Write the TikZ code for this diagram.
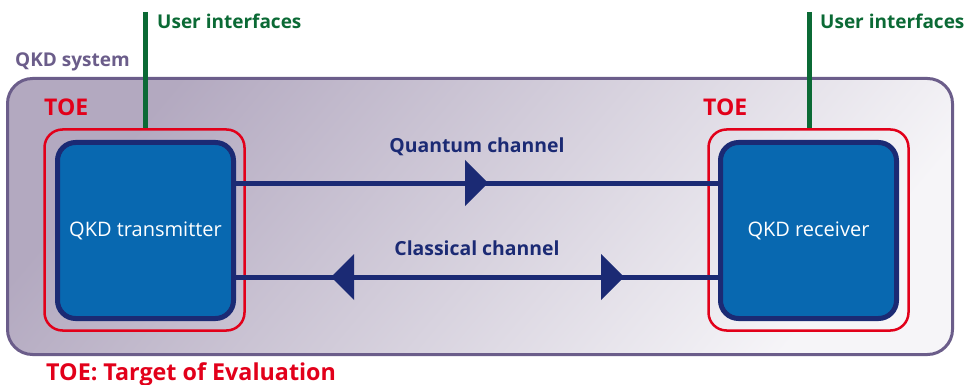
\documentclass[tikz,border=0pt]{standalone}
\usepackage{fontspec}
\setmainfont{Open Sans}
\usetikzlibrary{calc}
\definecolor{sysgray}{HTML}{6B5D8A}
\definecolor{toered}{HTML}{E2001A}
\definecolor{boxblue}{HTML}{0868B0}
\definecolor{navy}{HTML}{1B2A74}
\definecolor{uigreen}{HTML}{0B6A35}
\definecolor{shadedark}{HTML}{B3A9C0}
\definecolor{shadelight}{HTML}{F6F5F8}
\tikzset{
  sysbox/.style={draw=sysgray, line width=3pt, rounded corners=25pt, minimum width=945pt, minimum height=276pt, inner sep=0pt,
    shading=axis, left color=shadedark, right color=shadelight, shading angle=50},
  toebox/.style={draw=toered, line width=2.5pt, rounded corners=18pt, minimum width=200pt, minimum height=201pt, inner sep=0pt},
  devbox/.style={draw=navy, fill=boxblue, line width=5pt, rounded corners=18pt, minimum width=176pt, minimum height=176pt, inner sep=0pt,
    text=white, font=\fontsize{20}{24}\selectfont},
  uiline/.style={draw=uigreen, line width=5pt},
  uilabel/.style={text=uigreen, font=\fontsize{19}{22}\selectfont\bfseries, anchor=west, inner sep=0pt},
  toelabel/.style={text=toered, font=\fontsize{23}{27}\selectfont\bfseries, anchor=west, inner sep=0pt},
  chlabel/.style={text=navy, font=\fontsize{19.4}{23}\selectfont\bfseries, inner sep=0pt},
  chline/.style={draw=navy, line width=5pt},
  tri/.style={fill=navy}
}
\begin{document}
\begin{tikzpicture}[x=1pt,y=1pt]
\useasboundingbox (0,0) rectangle (964,-385);
% QKD system
\node[sysbox] (sys) at (480,-216.5) {};
\node[text=sysgray, font=\fontsize{19}{22}\selectfont\bfseries, anchor=west, inner sep=0pt] (syslabel) at (15,-62) {QKD system};
% TOE boxes
\node[toebox] (ltoe) at (144.5,-230) {};
\node[toebox] (rtoe) at (808.5,-230) {};
\node[toelabel] (ltoelabel) at (44,-107) {TOE};
\node[toelabel] (rtoelabel) at (703,-107) {TOE};
% devices
\node[devbox] (tx) at (145.5,-230.5) {QKD transmitter};
\node[devbox] (rx) at (808.5,-230.5) {QKD receiver};
% user interfaces
\coordinate (lui) at (145,-12);
\coordinate (rui) at (809,-12);
\draw[uiline] (lui) -- (lui |- ltoe.north);
\draw[uiline] (rui) -- (rui |- rtoe.north);
\node[uilabel] (luilabel) at (157,-21) {User interfaces};
\node[uilabel] (ruilabel) at (820,-21) {User interfaces};
% channels
\coordinate (qy) at (0,-183);
\coordinate (cy) at (0,-277);
\draw[chline] (tx.east |- qy) -- (rx.west |- qy);
\draw[chline] (tx.east |- cy) -- (rx.west |- cy);
\fill[tri] (465,-160) -- (488,-183) -- (465,-206) -- cycle;
\fill[tri] (354,-254) -- (331,-277) -- (354,-300) -- cycle;
\fill[tri] (601,-254) -- (624,-277) -- (601,-300) -- cycle;
\node[chlabel] (qlabel) at (477,-147) {Quantum channel};
\node[chlabel] (clabel) at (477,-248) {Classical channel};
% legend
\node[toelabel, font=\fontsize{23.3}{27}\selectfont\bfseries] (legend) at (46,-374) {TOE: Target of Evaluation};
\end{tikzpicture}
\end{document}
